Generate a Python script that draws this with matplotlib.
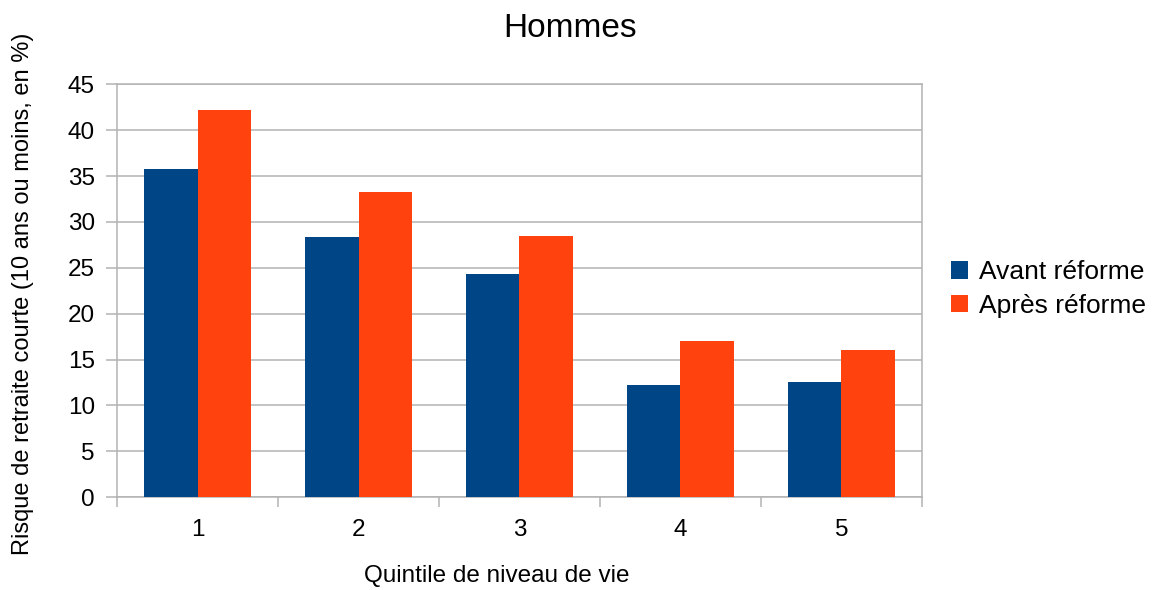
import matplotlib
matplotlib.use("Agg")
import matplotlib.pyplot as plt
import numpy as np

plt.rcParams['font.family'] = ['Liberation Sans', 'DejaVu Sans']

quintiles = ["1", "2", "3", "4", "5"]
avant = [35.8, 28.4, 24.3, 12.2, 12.5]
apres = [42.2, 33.3, 28.5, 17.0, 16.0]

blue = "#004586"
orange = "#ff420e"
grey = "#b3b3b3"

fig = plt.figure(figsize=(11.52, 5.9), dpi=100)
ax = fig.add_axes([0.1016, 0.1576, 0.6987, 0.6992])

x = np.arange(1, len(quintiles) + 1)
w = 0.33
ax.bar(x - w / 2, avant, w, color=blue, label="Avant réforme", zorder=3)
ax.bar(x + w / 2, apres, w, color=orange, label="Après réforme", zorder=3)

ax.set_xlim(0.5, 5.5)
ax.set_ylim(0, 45)
ax.set_yticks(range(0, 46, 5))
ax.set_xticks(x)
ax.set_xticklabels(quintiles)
ax.set_xticks(np.arange(0.5, 5.6, 1), minor=True)
ax.tick_params(axis="x", which="major", length=0, pad=16, labelsize=17.5)
ax.tick_params(axis="x", which="minor", length=7, color=grey, width=1.1)
ax.tick_params(axis="y", length=8, color=grey, width=1.1, pad=8, labelsize=17.5)
ax.grid(axis="y", color=grey, linewidth=1.1, zorder=0)
for s in ax.spines.values():
    s.set_color(grey)
    s.set_linewidth(1.1)

fig.text(0.495, 0.9525, "Hommes", ha="center", va="center", fontsize=24)
fig.text(0.431, 0.024, "Quintile de niveau de vie", ha="center", va="center", fontsize=17.5)
fig.text(0.02, 0.502, "Risque de retraite courte (10 ans ou moins, en %)",
         ha="center", va="center", rotation=90, fontsize=17)

fig.legend(loc="center left", bbox_to_anchor=(0.8162, 0.51), frameon=False,
           fontsize=19, handlelength=0.65, handleheight=0.65, handletextpad=0.4,
           labelspacing=0.35, borderaxespad=0)

fig.savefig("out.png", dpi=100)
